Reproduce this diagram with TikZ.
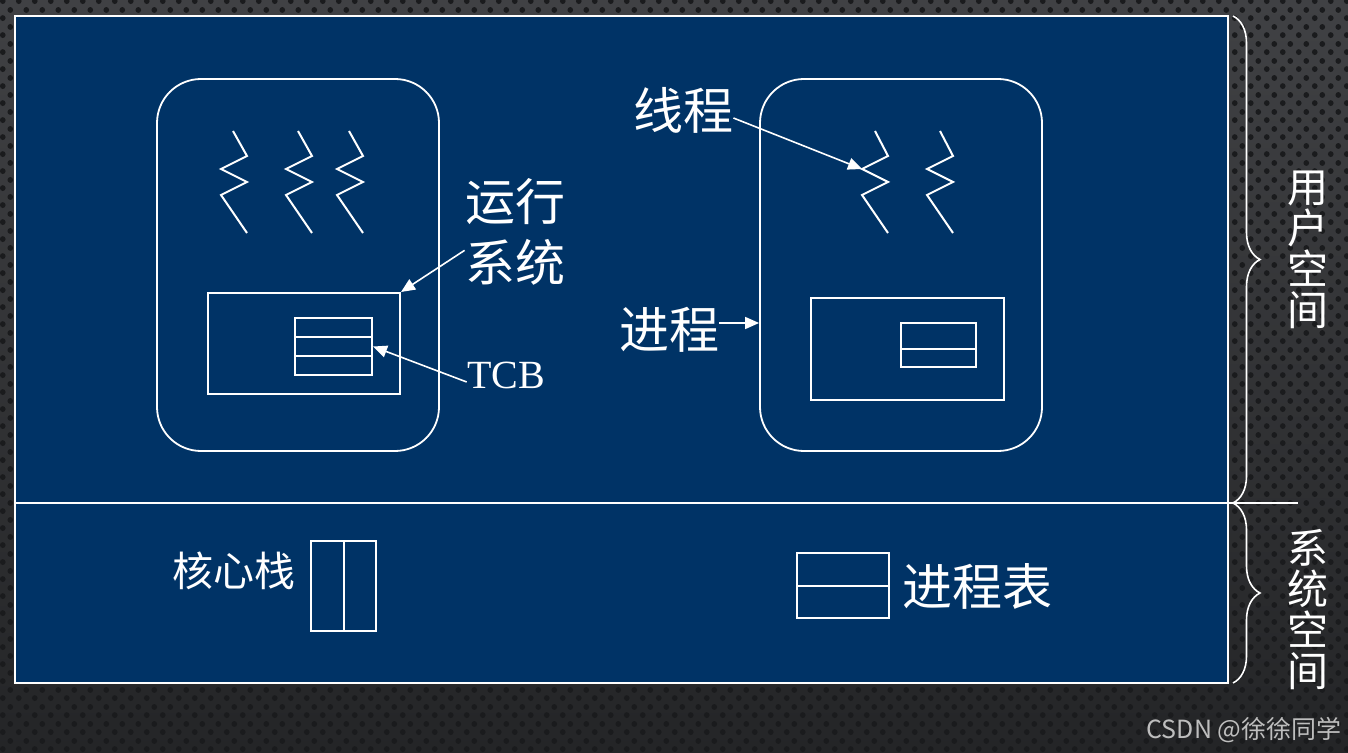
\documentclass[tikz,border=0pt]{standalone}
\usepackage{fontspec}
\setmainfont{Liberation Serif}
\newfontfamily\cjk{Noto Sans CJK SC}
\usetikzlibrary{arrows.meta,calc,decorations.pathreplacing,patterns}
\definecolor{navy}{RGB}{0,51,102}
\definecolor{bgtop}{RGB}{64,65,68}
\definecolor{bgbot}{RGB}{36,37,39}
\definecolor{dotc}{RGB}{26,27,29}
\definecolor{wmgray}{RGB}{190,190,190}
\pgfdeclarepatternformonly{bgdots}{\pgfpointorigin}{\pgfpoint{8pt}{8.3pt}}{\pgfpoint{8pt}{8.3pt}}{%
  \pgfpathcircle{\pgfpoint{2pt}{2pt}}{1.5pt}%
  \pgfpathcircle{\pgfpoint{6pt}{6.15pt}}{1.5pt}%
  \pgfusepath{fill}}

\begin{document}
\begin{tikzpicture}[x=0.5pt, y=-0.5pt,
	every node/.style={text=white, inner sep=0pt},
	box/.style={draw=white, line width=1pt},
	proc/.style={draw=white, line width=0.9pt, rounded corners=22pt, minimum width=141pt, minimum height=186pt},
	thread/.style={white, line width=1pt},
	arr/.style={white, line width=0.8pt, -{Triangle[length=7pt,width=6pt]}},
	bigtext/.style={font=\cjk\fontsize{25}{30.5}\selectfont, align=center},
	sidetext/.style={font=\cjk\fontsize{20.5}{20.5}\selectfont, align=center},
	sidebrace/.style={white, line width=0.8pt, decorate, decoration={brace, amplitude=13.5pt}}]
	\useasboundingbox (0,0) rectangle (1348,753);
	% background
	\fill[top color=bgtop, bottom color=bgbot] (0,0) rectangle (1348,753);
	\fill[pattern=bgdots, pattern color=dotc] (0,0) rectangle (1348,753);
	\draw[box, fill=navy] (15,16) rectangle (1228,683);
	\draw[box] (15,503) -- (1298,503);
	% left process
	\node[proc] (lproc) at (298,265) {};
	\foreach \x in {233,298,349} {\draw[thread] (\x,131) -- ++(14,25) -- ++(-26,13) -- ++(26,13) -- ++(-26,13) -- ++(26,38);}
	\node[box, minimum width=96pt, minimum height=50.5pt] (lpcb) at (304,343.5) {};
	\node[box, minimum width=38.5pt, minimum height=28.5pt] (ltcb) at (333.5,346.5) {};
	\foreach \f in {1/3,2/3} {\draw[box] ($(ltcb.north west)!\f!(ltcb.south west)$) -- ($(ltcb.north east)!\f!(ltcb.south east)$);}
	% right process
	\node[proc] (rproc) at (901,265) {};
	\foreach \x in {875,940} {\draw[thread] (\x,131) -- ++(13,25) -- ++(-26,13) -- ++(26,13) -- ++(-26,13) -- ++(26,38);}
	\coordinate (rthread) at (862,169);
	\node[box, minimum width=96.5pt, minimum height=51pt] (rpcb) at (907.5,349) {};
	\node[box, minimum width=37.5pt, minimum height=22pt] (rtab) at (938.5,345) {};
	\draw[box] ($(rtab.north west)!0.58!(rtab.south west)$) -- ($(rtab.north east)!0.58!(rtab.south east)$);
	% labels and arrows
	\node[bigtext] (thr) at (683,110) {线程};
	\draw[arr] ([yshift=-4pt]thr.east) -- (rthread);
	\node[bigtext] (rts) at (515,232) {运行\\系统};
	\draw[arr] (rts.200) -- (lpcb.north east);
	\node[font=\fontsize{20}{24}\selectfont] (tcb) at (506,375) {TCB};
	\draw[arr] ([yshift=-3.5pt]tcb.west) -- (ltcb.east);
	\node[bigtext] (prc) at (669,330) {进程};
	\coordinate (prcout) at ([yshift=3.5pt]prc.east);
	\draw[arr] (prcout) -- (prcout -| rproc.west);
	% system space
	\node[sidetext] (kst) at (234,571) {核心栈};
	\node[box, minimum width=32.5pt, minimum height=45pt] (kbox) at (343.5,586) {};
	\draw[box] (kbox.north) -- (kbox.south);
	\node[box, minimum width=46pt, minimum height=32.5pt] (ptab) at (843,585.5) {};
	\draw[box] (ptab.west) -- (ptab.east);
	\node[bigtext] (ptl) at (977,586) {进程表};
	% braces
	\draw[sidebrace] (1233,16) -- (1233,503);
	\draw[sidebrace] (1233,503) -- (1233,683);
	\node[sidetext] (usp) at (1308,250) {用\\户\\空\\间};
	\node[sidetext] (ssp) at (1308,610) {系\\统\\空\\间};
	\node[text=wmgray, font=\cjk\fontsize{12.5}{14}\selectfont] (wm) at (1244,730) {CSDN @徐徐同学};
\end{tikzpicture}
\end{document}
